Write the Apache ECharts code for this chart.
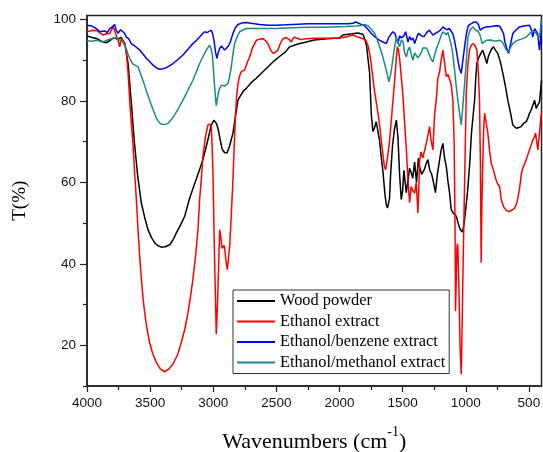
<!DOCTYPE html>
<html>
<head>
<meta charset="utf-8">
<script src="https://cdn.jsdelivr.net/npm/echarts@6/dist/echarts.min.js"></script>
<style>
  html, body { margin: 0; padding: 0; background: #fff; }
  #chart { width: 543px; height: 452px; }
</style>
</head>
<body>
<div id="chart"></div>
<script>
// Series names
const seriesNames = ['Wood powder', 'Ethanol extract', 'Ethanol/benzene extract', 'Ethanol/methanol extract'];

// Tick values
const xMajorTicks = [500, 1000, 1500, 2000, 2500, 3000, 3500, 4000];
const xMinorTicks = [750, 1250, 1750, 2250, 2750, 3250, 3750];
const yMajorTicks = [20, 40, 60, 80, 100];
const yMinorTicks = [10, 30, 50, 70, 90];

// [wavenumber, T(%)]
const woodPowder = [[4000,96.0],[3960,95.6],[3920,95.3],[3880,94.6],[3850,94.3],[3820,94.8],[3790,95.5],[3760,95.2],[3730,95.6],[3700,94.1],[3675,89.3],[3650,80],[3625,70],[3600,62],[3570,55],[3540,51],[3517,48.4],[3490,46.5],[3464,45.2],[3440,44.5],[3411,44.1],[3380,44.2],[3345,44.7],[3320,45.8],[3292,47.6],[3260,49.5],[3226,51.7],[3190,55.8],[3150,59.5],[3110,63],[3082,65.6],[3050,69.5],[3015,74.1],[2995,75.3],[2975,74.5],[2963,73.3],[2945,70.5],[2930,68.2],[2910,67.3],[2890,67.3],[2870,69],[2844,72.1],[2820,77],[2804,80.2],[2790,81],[2760,82.5],[2738,83.1],[2700,84.5],[2659,85.6],[2633,86.4],[2580,88],[2527,89.6],[2480,90.8],[2430,92],[2395,93.3],[2330,94.0],[2263,94.5],[2200,95],[2100,95.3],[2000,95.5],[1973,96.2],[1900,96.5],[1854,96.7],[1815,96.4],[1801,95.3],[1785,93.5],[1775,90.5],[1762,87],[1748,76.6],[1735,72.5],[1722,73.5],[1709,74.9],[1695,72.5],[1682,70.0],[1665,65],[1656,62.7],[1640,57],[1629,54.5],[1620,53.7],[1604,56],[1595,62],[1580,69],[1565,73],[1550,75.3],[1537,71],[1524,62],[1511,55.8],[1500,58],[1490,63],[1471,57.5],[1460,60],[1445,63.5],[1431,62.3],[1420,61],[1405,65],[1390,60],[1375,66],[1366,63.9],[1350,62],[1330,63],[1315,64.5],[1300,65.6],[1285,63],[1270,62],[1260,60.7],[1240,57.5],[1225,62],[1210,65],[1195,68],[1181,69.6],[1168,66],[1154,63.9],[1140,60],[1128,57.4],[1115,53.3],[1100,52.5],[1075,51.7],[1060,50],[1045,48.5],[1028,47.8],[1015,49.5],[1000,53.5],[985,58],[970,64],[955,72],[940,77],[930,80.2],[920,86],[912,89.2],[900,90.5],[891,90.8],[878,91.8],[865,92.5],[850,91],[833,89.2],[822,90.8],[811,91.7],[795,92.8],[780,93.3],[765,92.5],[746,91.7],[725,89.5],[706,86.8],[685,83.5],[667,80.2],[645,77],[627,74.1],[600,73.3],[580,73.5],[561,73.7],[548,74.3],[534,74.5],[520,75],[508,75.8],[495,77],[481,77.8],[468,79],[455,80.2],[442,78.2],[430,79],[416,79.8],[400,85]];

const ethanolExtract = [[4000,97],[3960,97.3],[3926,97.4],[3900,96.8],[3873,96.2],[3845,96.5],[3820,96.6],[3794,98.2],[3780,97.2],[3767,97.0],[3750,94.5],[3741,93.3],[3728,95.5],[3715,95.3],[3700,94],[3688,91.7],[3675,87],[3662,80.2],[3650,75],[3636,69.6],[3622,62],[3609,55.8],[3596,48.4],[3583,42],[3569,36.2],[3556,31.5],[3543,28.0],[3525,24],[3504,20.7],[3480,18],[3451,15.8],[3420,14.2],[3385,13.5],[3350,14.2],[3319,15.4],[3285,17.5],[3253,20.7],[3225,24],[3200,28.0],[3180,32],[3161,36.2],[3140,42],[3121,48.4],[3108,55.8],[3094,61],[3082,66.4],[3060,71.5],[3042,74.1],[3025,74.3],[3015,73.7],[3008,68],[3002,62],[2995,50],[2985,35],[2976,22.7],[2970,27],[2963,33.7],[2955,42],[2949,48.4],[2940,46.5],[2930,43.8],[2923,43.6],[2915,44.5],[2910,43.9],[2900,41],[2889,38.6],[2880,41],[2870,44.3],[2857,52],[2844,60.7],[2835,68],[2825,76],[2815,81],[2804,84.3],[2790,86.3],[2778,87.2],[2751,87.6],[2730,89.5],[2712,90.8],[2690,93],[2659,94.9],[2630,95.2],[2606,95.3],[2585,94.8],[2567,94.1],[2545,92.5],[2527,91.7],[2510,91.9],[2488,92.5],[2470,94],[2448,95.3],[2420,95.6],[2408,95.7],[2395,95],[2382,94.5],[2370,95.2],[2356,95.7],[2329,95.3],[2300,95.1],[2263,95.3],[2200,95.4],[2100,95.4],[2000,95.5],[1946,95.7],[1894,96.2],[1854,95.7],[1815,95.3],[1790,94.8],[1775,93.7],[1760,91.5],[1748,88.8],[1735,85.5],[1722,82.3],[1700,78],[1682,74.1],[1670,70.5],[1656,66.8],[1645,64],[1635,63.1],[1620,66],[1604,70.0],[1585,77],[1564,84.7],[1550,90.5],[1542,93.3],[1533,92.5],[1524,90.5],[1511,86],[1498,81.5],[1485,75],[1471,68.4],[1458,60.7],[1445,55],[1432,59],[1420,58],[1405,57.4],[1392,60],[1385,56],[1379,52.5],[1372,58],[1366,65.1],[1355,67.5],[1340,66],[1325,68],[1313,69.6],[1300,71.5],[1287,73.7],[1273,70],[1260,68],[1247,76.6],[1234,80.2],[1221,85.6],[1207,87.2],[1195,90],[1181,92.5],[1168,89.5],[1154,86.0],[1140,86.5],[1128,86.8],[1115,84],[1102,80.2],[1092,70],[1085,50],[1081,28.4],[1076,35],[1070,44],[1065,45],[1062,43.5],[1055,35],[1045,20],[1036,12.9],[1030,22],[1023,36.2],[1015,50],[1008,62],[996,81.9],[983,89],[970,92.5],[955,93.8],[938,94.1],[925,93.5],[912,92.5],[900,87],[891,80.2],[884,65],[878,40.3],[872,55],[865,65],[858,73],[851,77],[840,75],[825,72.1],[812,68],[798,64.7],[785,63.5],[772,63.1],[759,60.5],[745,59.5],[732,59.0],[719,55.8],[700,54],[680,53.2],[661,52.8],[640,53.1],[613,53.7],[595,55],[574,58.5],[560,62],[548,63.5],[521,65.6],[495,68],[469,70.5],[458,71],[447,72.1],[438,70],[429,68],[416,72.1],[405,76],[400,77]];

const benzeneExtract = [[4000,98.6],[3960,98.4],[3926,97.8],[3900,97.0],[3886,96.6],[3860,97.2],[3840,96.8],[3820,97.8],[3800,98.2],[3781,98.8],[3770,97.5],[3754,96.6],[3735,97.5],[3715,97.0],[3700,96.5],[3688,95.7],[3670,95.3],[3649,94.1],[3620,93.5],[3583,92.5],[3555,91.5],[3530,90.5],[3500,89.6],[3477,88.8],[3450,88.1],[3424,87.8],[3400,87.9],[3371,88.2],[3345,88.7],[3319,89.2],[3280,90.2],[3240,91.3],[3200,92.7],[3161,94.1],[3130,95],[3108,95.7],[3085,96.5],[3068,97.0],[3050,96.8],[3035,97.2],[3015,97.4],[3005,96.5],[2994,94.9],[2982,92],[2971,90.5],[2960,92],[2949,92.9],[2935,93.5],[2928,93.3],[2910,92.5],[2896,92.5],[2880,93.5],[2865,94.5],[2844,96.6],[2825,98],[2804,98.8],[2770,99.2],[2738,99.3],[2700,99.1],[2633,98.8],[2560,98.6],[2500,98.6],[2430,98.7],[2369,98.8],[2250,99.0],[2100,99.0],[2000,99.0],[1930,99.0],[1894,99.1],[1870,99.4],[1841,99.0],[1820,98.7],[1802,98.5],[1775,97.6],[1748,96.6],[1715,95.6],[1682,94.9],[1655,94.5],[1629,94.1],[1612,95.5],[1600,95.8],[1590,96.5],[1577,97.0],[1560,96.5],[1550,95.5],[1537,94.1],[1524,96],[1510,95.5],[1490,96],[1476,97.0],[1465,95.5],[1458,94.5],[1445,95.8],[1432,95],[1419,95.5],[1405,94.1],[1390,95.5],[1375,96.6],[1366,96.6],[1350,96],[1330,95.8],[1310,96.8],[1287,97.4],[1275,96.8],[1260,96.2],[1240,96.6],[1220,97],[1200,97.4],[1181,98.2],[1168,97.8],[1150,97.5],[1130,97.8],[1115,97.8],[1102,96.5],[1089,94.9],[1075,92.5],[1062,90.0],[1050,88],[1036,86.8],[1025,89.5],[1009,93.3],[995,96.5],[980,98.5],[956,99.0],[935,99.4],[917,99.4],[900,98.8],[885,97.4],[877,97.4],[860,98],[838,98.2],[800,98.3],[760,98.5],[732,98.4],[715,97.5],[700,96.5],[690,94.5],[679,93.3],[661,91.7],[645,94],[627,96.6],[600,97.5],[574,98.2],[530,98.5],[495,98.6],[480,97.5],[469,95.7],[455,97.8],[440,98],[430,96.5],[416,92.5],[405,96],[400,98.8]];

const methanolExtract = [[4000,94.8],[3960,94.7],[3920,94.9],[3880,94.5],[3850,94.8],[3820,95.2],[3794,95.3],[3770,95.6],[3745,95.0],[3720,94.6],[3702,93.7],[3685,92.5],[3675,91.5],[3662,90.5],[3650,89.8],[3641,89.2],[3620,88.8],[3596,88.4],[3580,87],[3557,85.1],[3530,82.5],[3504,80.2],[3478,78],[3451,75.8],[3430,74.8],[3411,74.3],[3385,74.2],[3359,74.5],[3330,75.5],[3306,76.6],[3270,78.5],[3240,80.2],[3200,82.7],[3161,85.1],[3130,87.5],[3108,89.2],[3080,91],[3055,92.5],[3040,93.2],[3029,93.7],[3018,93.0],[3007,91.3],[2998,87.5],[2991,84.3],[2983,81],[2976,78.8],[2968,80.5],[2955,82.7],[2936,83.9],[2923,83.7],[2910,83.7],[2895,84],[2884,84.3],[2870,86],[2857,88.4],[2844,91.5],[2831,94.1],[2810,95.8],[2791,97.0],[2760,97.5],[2738,97.8],[2650,97.8],[2500,97.8],[2369,98.0],[2250,98.1],[2100,98.1],[2055,98.2],[1950,98.3],[1867,98.4],[1820,98.6],[1800,98.8],[1788,99.0],[1775,98.5],[1760,98],[1745,97.5],[1722,96.6],[1700,95],[1682,93.3],[1660,91.2],[1643,89.2],[1625,87],[1609,84.7],[1595,86.5],[1582,89.2],[1565,93],[1550,95.7],[1537,94.5],[1524,93.3],[1510,95],[1497,94.5],[1485,92],[1471,90.8],[1458,92.5],[1445,93.3],[1432,91.5],[1419,90.0],[1405,91.8],[1392,91.5],[1379,90.6],[1366,90.5],[1350,92],[1340,93],[1326,93.3],[1310,93],[1290,91.5],[1275,90.3],[1260,89.6],[1245,91.5],[1230,93],[1207,94.9],[1190,96.5],[1181,97.0],[1168,96.6],[1155,96.3],[1140,96.8],[1125,95],[1107,92.5],[1090,88],[1075,83.5],[1062,80],[1049,77.0],[1036,74.1],[1025,78],[1015,82],[1009,84.3],[995,90],[983,95.7],[965,97.5],[944,98.2],[925,97.5],[905,97.2],[890,96.5],[877,95],[870,94.1],[855,94.5],[838,94.9],[800,95.0],[770,94.7],[732,94.9],[710,94.5],[690,93.2],[679,92.5],[661,92.2],[645,93.2],[627,94.1],[600,94.8],[560,95.2],[521,95.7],[495,96.5],[469,97.4],[455,97],[440,96.5],[430,96],[420,95.5],[410,97],[403,99.8],[400,100]];

const seriesData = [woodPowder, ethanolExtract, benzeneExtract, methanolExtract];
const seriesColors = ['#000000', '#ff0000', '#0000ff', '#1a8a85'];

const chart = echarts.init(document.getElementById('chart'), null, { renderer: 'canvas' });

const sansFont = '"Liberation Sans", Arial, sans-serif';
const serifFont = '"Liberation Serif", "Times New Roman", serif';

const xBase = { type: 'value', min: 400, max: 4000, inverse: true, gridIndex: 0, splitLine: { show: false } };
const yBase = { type: 'value', min: 10, max: 101, gridIndex: 0, splitLine: { show: false } };

const option = {
  animation: false,
  backgroundColor: '#ffffff',
  grid: {
    left: 87, right: 1.5, top: 15.5, bottom: 66,
    containLabel: false,
    outerBoundsMode: 'none',
    show: true, borderColor: '#222', borderWidth: 1.5, backgroundColor: 'transparent'
  },
  legend: {
    orient: 'vertical',
    left: 233, top: 290,
    padding: [3, 4, 3, 4],
    itemGap: 4.5,
    itemWidth: 38, itemHeight: 2,
    icon: 'rect',
    borderColor: '#333', borderWidth: 1,
    backgroundColor: '#fff',
    textStyle: { fontFamily: serifFont, fontSize: 16.4, color: '#000', lineHeight: 16 },
    data: seriesNames
  },
  xAxis: [
    Object.assign({}, xBase, {
      position: 'bottom',
      name: '{a|Wavenumbers (cm}{s|-1}{a|)}',
      nameLocation: 'middle',
      nameGap: 39,
      nameTextStyle: {
        rich: {
          a: { fontFamily: serifFont, fontSize: 22, color: '#000', lineHeight: 28, verticalAlign: 'bottom' },
          s: { fontFamily: serifFont, fontSize: 14, color: '#000', lineHeight: 28, verticalAlign: 'top' }
        }
      },
      axisLine: { show: true, lineStyle: { color: '#222', width: 1.5 } },
      axisTick: { show: true, inside: false, length: 6, customValues: xMajorTicks, lineStyle: { color: '#222', width: 1.2 } },
      axisLabel: { show: true, customValues: xMajorTicks, margin: 10, fontFamily: sansFont, fontSize: 13.5, color: '#111', formatter: v => String(v) }
    }),
    Object.assign({}, xBase, {
      position: 'bottom', offset: 0,
      axisLine: { show: false },
      axisTick: { show: true, inside: false, length: 4, customValues: xMinorTicks, lineStyle: { color: '#222', width: 1.2 } },
      axisLabel: { show: false }
    })
  ],
  yAxis: [
    Object.assign({}, yBase, {
      position: 'left',
      name: 'T(%)',
      nameLocation: 'middle',
      nameGap: 57,
      nameTextStyle: { fontFamily: serifFont, fontSize: 19, color: '#000' },
      axisLine: { show: true, lineStyle: { color: '#222', width: 1.5 } },
      axisTick: { show: true, inside: false, length: 7, customValues: yMajorTicks, lineStyle: { color: '#222', width: 1.2 } },
      axisLabel: { show: true, customValues: yMajorTicks, margin: 11, fontFamily: sansFont, fontSize: 13.5, color: '#111', formatter: v => String(v) }
    }),
    Object.assign({}, yBase, {
      position: 'left', offset: 0,
      axisLine: { show: false },
      axisTick: { show: true, inside: false, length: 4, customValues: yMinorTicks, lineStyle: { color: '#222', width: 1.2 } },
      axisLabel: { show: false }
    })
  ],
  series: seriesNames.map((name, i) => ({
    name: name,
    type: 'line',
    xAxisIndex: 0,
    yAxisIndex: 0,
    data: seriesData[i],
    showSymbol: false,
    symbol: 'none',
    smooth: false,
    color: seriesColors[i],
    lineStyle: { color: seriesColors[i], width: 1.5 },
    z: 2 + i
  }))
};

chart.setOption(option);
</script>
</body>
</html>
